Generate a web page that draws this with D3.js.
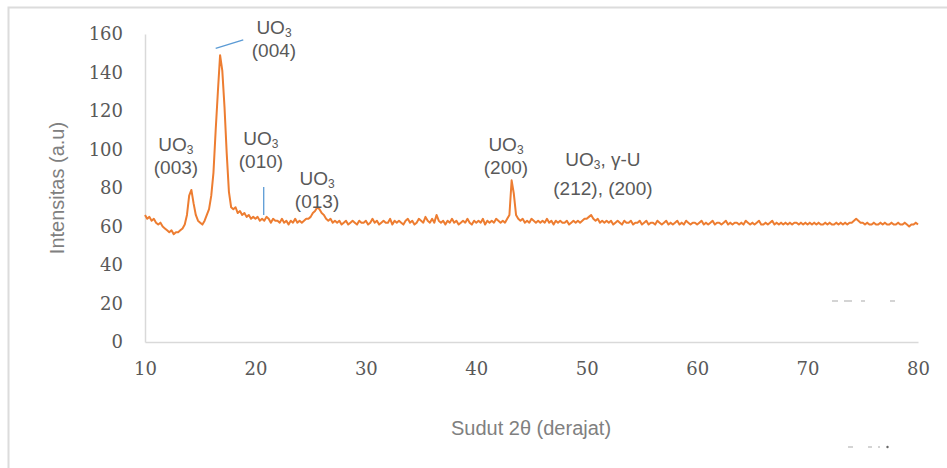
<!DOCTYPE html>
<html lang="id">
<head>
<meta charset="utf-8">
<title>XRD UO3</title>
<script src="https://d3js.org/d3.v7.min.js"></script>
<style>
  body { margin: 0; background: #fff; }
  svg { display: block; }
  .tick text { font-family: "DejaVu Serif", serif; font-size: 18px; fill: #595959; }
  .lbl { font-family: "Liberation Sans", Arial, sans-serif; font-size: 19px; fill: #595959; }
  .title { font-family: "Liberation Sans", Arial, sans-serif; font-size: 20px; fill: #808080; }
</style>
</head>
<body>
<svg width="947" height="468"></svg>
<script>
// 2θ sampling: 10° to 80° in 0.2° steps
const angleStart = 10, angleStep = 0.2;

// intensity, one row per 2°
const intensity = [
  66,64,65,63,64,62,61,62,60,59,
  58,57,58,56,57,57,58,59,61,66,
  76,79,72,66,63,62,61,63,66,69,
  76,88,110,130,149,141,122,98,78,70,
  69,70,67,68,66,67,65,66,64,65,
  64,65,63,64,63,65,64,62,64,63,
  63,62,64,62,63,61,63,62,64,62,
  63,62,63,64,64,65,67,68,70,69,
  67,66,64,63,64,62,63,62,63,61,
  62,63,61,62,63,62,61,63,62,62,
  63,61,62,64,62,63,61,62,63,62,
  62,64,61,63,62,63,62,61,63,64,
  62,63,61,62,64,63,62,65,63,62,
  64,62,66,63,62,63,61,63,62,64,
  62,63,61,62,63,62,64,62,61,63,
  62,63,62,64,61,63,62,63,62,64,
  63,62,63,62,64,66,84,77,66,64,
  63,64,62,63,62,64,63,62,63,62,
  63,62,64,62,63,61,63,62,63,62,
  62,63,61,62,63,62,63,62,63,64,
  64,65,66,64,63,64,62,63,62,63,
  62,63,61,62,63,62,61,63,62,62,
  63,61,62,62,63,61,62,63,61,62,
  62,61,63,62,61,62,63,61,62,61,
  62,63,61,62,61,63,62,61,62,62,
  61,62,63,61,62,61,62,63,61,62,
  62,61,62,63,61,62,61,62,62,61,
  62,61,63,62,61,62,61,62,63,61,
  61,62,61,62,63,61,62,61,62,61,
  62,61,62,61,62,62,61,62,61,62,
  61,62,61,62,61,62,61,61,62,61,
  62,61,61,62,61,62,61,62,61,62,
  62,63,64,63,62,62,61,62,61,61,
  62,61,61,62,61,62,61,61,62,61,
  61,62,61,61,62,61,60,61,61,62,
  61
];

const xTicks = [10, 20, 30, 40, 50, 60, 70, 80];
const yTicks = [0, 20, 40, 60, 80, 100, 120, 140, 160];

// peak labels: centre angle, intensity at first baseline, gap to second line (px)
const peakLabels = [
  { x: 12.8,  y: 99.3,  gap: 23, l1: "UO", sub: "3", rest: "",      l2: "(003)" },
  { x: 21.68, y: 160,   gap: 23, l1: "UO", sub: "3", rest: "",      l2: "(004)" },
  { x: 20.5,  y: 102.3, gap: 23, l1: "UO", sub: "3", rest: "",      l2: "(010)" },
  { x: 25.58, y: 81.5,  gap: 23, l1: "UO", sub: "3", rest: "",      l2: "(013)" },
  { x: 42.69, y: 99.3,  gap: 23, l1: "UO", sub: "3", rest: "",      l2: "(200)" },
  { x: 51.47, y: 91.4,  gap: 29, l1: "UO", sub: "3", rest: ", γ-U", l2: "(212), (200)" }
];

// blue leader lines (angle, intensity)
const leaders = [
  [[16.4, 152.5], [18.9, 157]],
  [[20.75, 66], [20.75, 80.5]]
];

const svg = d3.select("svg");
const x = d3.scaleLinear().domain([10, 80]).range([145, 918]);
const y = d3.scaleLinear().domain([0, 160]).range([342, 34]);

// outer frame
svg.append("path")
  .attr("d", "M8.5,468V7.5H947")
  .attr("fill", "none")
  .attr("stroke", "#dcdcdc")
  .attr("stroke-width", 2);

// axes
const gx = svg.append("g").attr("transform", "translate(0,342)")
  .call(d3.axisBottom(x).tickValues(xTicks).tickSize(0).tickPadding(20));
const gy = svg.append("g").attr("transform", "translate(145,0)")
  .call(d3.axisLeft(y).tickValues(yTicks).tickSize(0).tickPadding(22));
[gx, gy].forEach(g => g.select(".domain").attr("stroke", "#d9d9d9").attr("stroke-width", 1.5));

// trace
const data = intensity.map((v, i) => [angleStart + i * angleStep, v]);
svg.append("path")
  .datum(data)
  .attr("fill", "none")
  .attr("stroke", "#ED7D31")
  .attr("stroke-width", 2)
  .attr("stroke-linejoin", "round")
  .attr("d", d3.line().x(d => x(d[0])).y(d => y(d[1])));

// leaders
svg.selectAll("line.leader").data(leaders).join("line")
  .attr("class", "leader")
  .attr("x1", d => x(d[0][0])).attr("y1", d => y(d[0][1]))
  .attr("x2", d => x(d[1][0])).attr("y2", d => y(d[1][1]))
  .attr("stroke", "#5B9BD5").attr("stroke-width", 1.3);

// peak labels, two lines in one text element
peakLabels.forEach(p => {
  const cx = x(p.x), by = y(p.y);
  const t = svg.append("text").attr("class", "lbl")
    .attr("x", cx).attr("y", by).attr("text-anchor", "middle");
  const line1 = t.append("tspan").attr("x", cx).attr("y", by);
  line1.append("tspan").text(p.l1);
  line1.append("tspan").attr("font-size", 12).attr("dy", 3).text(p.sub);
  if (p.rest) line1.append("tspan").attr("dy", -3).text(p.rest);
  t.append("tspan").attr("x", cx).attr("y", by + p.gap).text(p.l2);
});

// axis titles
svg.append("text").attr("class", "title")
  .attr("x", 531).attr("y", 435).attr("text-anchor", "middle")
  .text("Sudut 2θ (derajat)");
svg.append("text").attr("class", "title")
  .attr("transform", "translate(64,188) rotate(-90)")
  .attr("text-anchor", "middle")
  .text("Intensitas (a.u)");

// faint leftover marks at bottom right
svg.append("path").attr("d", "M832,301H838M844,301H852M861,301H865M890,301H895M848,447H853M868,447H872M878,447H880")
  .attr("stroke", "#aaa").attr("stroke-width", 1.2);
svg.append("circle").attr("cx", 887.5).attr("cy", 447).attr("r", 1.2).attr("fill", "#666");
</script>
</body>
</html>
